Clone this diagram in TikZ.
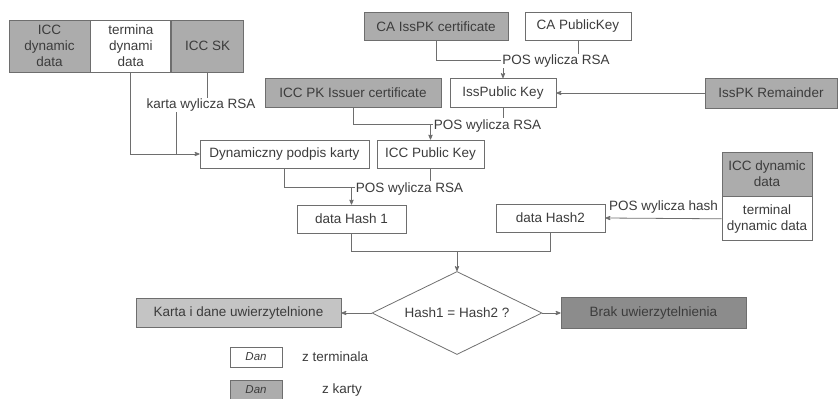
\documentclass[tikz,border=0pt]{standalone}
\usepackage{fontspec}
\setmainfont{Liberation Sans}
\usetikzlibrary{positioning}
\usetikzlibrary{arrows}
\usetikzlibrary{calc}
\usetikzlibrary{shapes.geometric}
\definecolor{edgegray}{RGB}{110,110,110}
\definecolor{txtgray}{RGB}{60,60,60}
\definecolor{cardgray}{RGB}{172,172,172}
\definecolor{okgray}{RGB}{196,196,196}
\definecolor{failgray}{RGB}{140,140,140}
\tikzset{>=stealth'}
\tikzset{box/.style={draw=edgegray, rectangle, inner sep=0pt, align=center, text=txtgray, minimum height=28pt}}
\tikzset{cardbox/.style={box, fill=cardgray}}
\tikzset{lbl/.style={fill=white, inner sep=1pt, text=txtgray}}

\begin{document}
\begin{tikzpicture}[x=1pt, y=-1pt, font=\fontsize{13.5}{16}\selectfont, line width=0.8pt]
\useasboundingbox (0,0) rectangle (839,399);

\node[cardbox, minimum width=81pt, minimum height=52pt] (iccdyn) at (49.5,46) {ICC\\dynamic\\data};
\node[box, minimum width=80pt, minimum height=52pt, right=0pt of iccdyn] (termdyn) {termina\\dynami\\data};
\node[cardbox, minimum width=72pt, minimum height=52pt, right=0pt of termdyn] (iccsk) {ICC SK};

\node[cardbox, minimum width=144pt] (cacert) at (436,26.5) {CA IssPK certificate};
\node[box, minimum width=106pt] (capub) at (578,26.5) {CA PublicKey};
\node[cardbox, minimum width=176pt, minimum height=29pt] (pkcert) at (353,93) {ICC PK Issuer certificate};
\node[box, minimum width=106pt, minimum height=29pt] (isspub) at (503,93) {IssPublic Key};
\node[cardbox, minimum width=132pt, minimum height=30pt] (remain) at (771,93) {IssPK Remainder};

\node[box, minimum width=169pt] (dynsig) at (284.5,154) {Dynamiczny podpis karty};
\node[box, minimum width=107pt] (iccpub) at (430.5,154) {ICC Public Key};
\node[box, minimum width=109pt] (hash1) at (351.5,219) {data Hash 1};
\node[box, minimum width=109pt] (hash2) at (550.5,218) {data Hash2};
\node[cardbox, minimum width=90pt, minimum height=44pt] (iccdyn2) at (767,174) {ICC dynamic\\data};
\node[box, minimum width=90pt, minimum height=44pt, below=0pt of iccdyn2] (termdyn2) {terminal\\dynamic data};

\node[draw=edgegray, diamond, aspect=2.05, minimum width=170pt, minimum height=83pt, inner sep=0pt, text=txtgray] (dec) at (457,313) {Hash1 = Hash2 ?};
\node[box, fill=okgray, minimum width=205pt, minimum height=29pt] (ok) at (238.5,313) {Karta i dane uwierzytelnione};
\node[box, fill=failgray, minimum width=185pt, minimum height=31pt] (fail) at (653.5,313) {Brak uwierzytelnienia};

\node[box, minimum width=52pt, minimum height=20pt, font=\fontsize{11.5}{13}\itshape] (legt) at (256,357) {Dan};
\node[text=txtgray, right=16pt of legt] (legttxt) {z terminala};
\node[cardbox, minimum width=52pt, minimum height=19pt, font=\fontsize{11.5}{13}\itshape] (legc) at (256,390) {Dan};
\node[text=txtgray] (legctxt) at (342,390) {z karty};

\coordinate (kj) at (176,154);
\coordinate (j1) at ($(isspub.north)+(0,-18)$);
\coordinate (j2) at ($(iccpub.north)+(0,-15)$);
\coordinate (j3) at ($(hash1.north)+(0,-17)$);
\coordinate (j4) at ($(dec.north)+(0,-20)$);

\draw[->, edgegray] (termdyn.south) |- (dynsig.west);
\draw[edgegray] (iccsk.south) -- ++(0,33) -| (kj);
\node[lbl] (cardrsa) at (201,105) {karta wylicza RSA};

\draw[edgegray] (cacert.south) |- (j1);
\draw[edgegray] (capub.south) |- (j1);
\draw[->, edgegray] (j1) -- (isspub.north);
\node[lbl, anchor=west] (posrsa1) at ($(j1)+(-2,1)$) {POS wylicza RSA};

\draw[edgegray] (pkcert.south) |- (j2);
\draw[edgegray] (isspub.south) |- (j2);
\draw[->, edgegray] (j2) -- (iccpub.north);
\node[lbl, anchor=west] (posrsa2) at ($(j2)+(2,1)$) {POS wylicza RSA};

\draw[edgegray] (dynsig.south) |- (j3);
\draw[edgegray] (iccpub.south) |- (j3);
\draw[->, edgegray] (j3) -- (hash1.north);
\node[lbl, anchor=west] (posrsa3) at ($(j3)+(3,1)$) {POS wylicza RSA};

\draw[->, edgegray] (remain.west) -- (isspub.east);
\draw[->, edgegray] (termdyn2.west) -- node[lbl, above, yshift=4pt] (poshash) {POS wylicza hash} (hash2.east);

\draw[edgegray] (hash1.south) |- (j4);
\draw[edgegray] (hash2.south) |- (j4);
\draw[->, edgegray] (j4) -- (dec.north);

\draw[->, edgegray] (dec.west) -- (ok.east);
\draw[->, edgegray] (dec.east) -- (fail.west);
\end{tikzpicture}
\end{document}
